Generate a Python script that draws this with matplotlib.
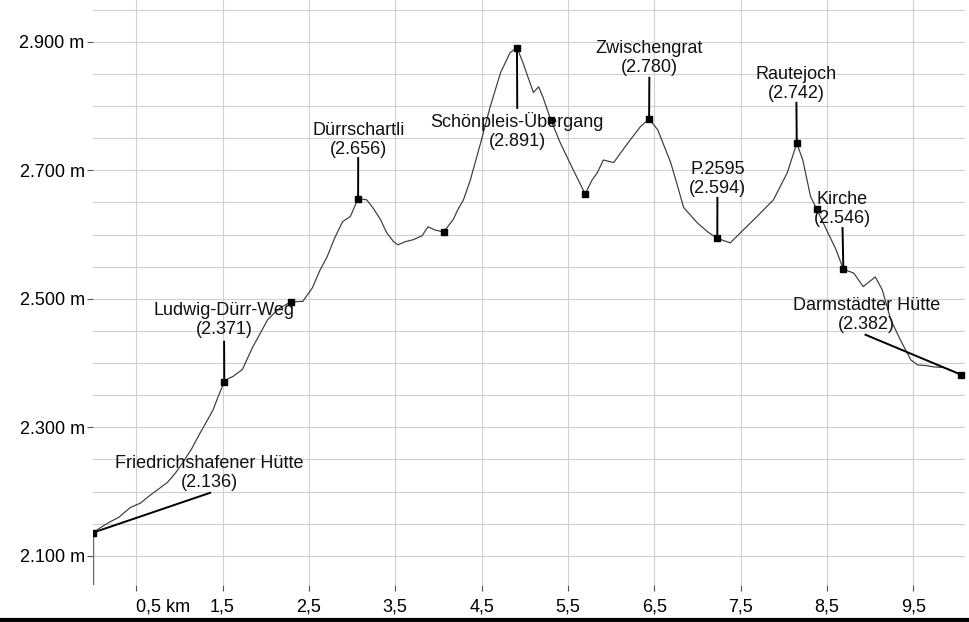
import matplotlib
matplotlib.use("Agg")
import matplotlib.pyplot as plt
from matplotlib.lines import Line2D

plt.rcParams['font.family'] = ['Liberation Sans', 'DejaVu Sans']

# profile (distance in km, elevation in m)
dist_km = [0.00, 0.10, 0.20, 0.30, 0.43, 0.55, 0.64, 0.75, 0.86, 0.95, 1.04, 1.14,
           1.24, 1.32, 1.39, 1.45, 1.52, 1.57, 1.62, 1.73, 1.85, 1.94, 2.02, 2.10,
           2.17, 2.29, 2.43, 2.54, 2.63, 2.71, 2.80, 2.89, 2.98, 3.07, 3.17, 3.25,
           3.33, 3.40, 3.48, 3.53, 3.62, 3.71, 3.81, 3.88, 3.96, 4.06, 4.17, 4.23,
           4.29, 4.37, 4.49, 4.60, 4.72, 4.83, 4.91, 4.98, 5.10, 5.16, 5.21, 5.30,
           5.41, 5.56, 5.70, 5.78, 5.84, 5.91, 5.97, 6.03, 6.11, 6.22, 6.34, 6.44,
           6.54, 6.69, 6.76, 6.84, 7.00, 7.12, 7.23, 7.38, 7.53, 7.69, 7.88, 8.04,
           8.15, 8.22, 8.31, 8.38, 8.51, 8.60, 8.69, 8.81, 8.92, 9.06, 9.14, 9.24,
           9.35, 9.47, 9.55, 9.65, 9.73, 9.85, 9.95, 10.05]
elev_m = [2136, 2145, 2153, 2160, 2175, 2182, 2192, 2203, 2214, 2228, 2245, 2266,
          2291, 2310, 2327, 2348, 2371, 2376, 2379, 2390, 2425, 2447, 2467, 2478,
          2486, 2495, 2496, 2517, 2545, 2565, 2595, 2620, 2628, 2656, 2654, 2640,
          2623, 2603, 2589, 2584, 2589, 2592, 2598, 2612, 2607, 2604, 2623, 2640,
          2654, 2685, 2743, 2799, 2852, 2883, 2891, 2867, 2821, 2830, 2814, 2779,
          2743, 2701, 2663, 2685, 2696, 2716, 2714, 2712, 2727, 2747, 2768, 2780,
          2763, 2712, 2680, 2642, 2618, 2604, 2594, 2587, 2607, 2628, 2654, 2696,
          2742, 2716, 2659, 2640, 2603, 2578, 2546, 2540, 2519, 2534, 2514, 2467,
          2436, 2405, 2397, 2396, 2394, 2393, 2388, 2382]

# named waypoints
wp_names = ["Friedrichshafener Hütte", "Ludwig-Dürr-Weg", "Dürrschartli",
            "Schönpleis-Übergang", "Zwischengrat", "P.2595", "Rautejoch",
            "Kirche", "Darmstädter Hütte"]
wp_km = [0.00, 1.52, 3.07, 4.91, 6.44, 7.23, 8.15, 8.69, 10.05]
wp_elev = [2136, 2371, 2656, 2891, 2780, 2594, 2742, 2546, 2382]

# other unnamed points on the route
pt_km = [2.29, 4.06, 5.30, 5.70, 8.38]
pt_elev = [2495, 2604, 2779, 2663, 2640]

# label placement: text centre and end of the leader line (data coords)
label_xy = [(1.344, 2229), (1.518, 2467), (3.071, 2747), (4.913, 2761),
            (6.443, 2874), (7.231, 2687), (8.146, 2835), (8.680, 2639),
            (8.955, 2474)]
leader_end = [(1.356, 2198), (1.518, 2433), (3.071, 2719), (4.913, 2797),
              (6.443, 2844), (7.231, 2657), (8.146, 2805), (8.680, 2610),
              (8.946, 2444)]

x_ticks = [0.5, 1.5, 2.5, 3.5, 4.5, 5.5, 6.5, 7.5, 8.5, 9.5]
x_labels = ["0,5 km", "1,5", "2,5", "3,5", "4,5", "5,5", "6,5", "7,5", "8,5", "9,5"]
y_ticks = [2100, 2300, 2500, 2700, 2900]
y_labels = ["2.100 m", "2.300 m", "2.500 m", "2.700 m", "2.900 m"]

fig = plt.figure(figsize=(9.69, 6.22), dpi=100)
ax = fig.add_axes([0.096, 0.06, 0.9, 0.94])
ax.set_xlim(0, 10.10)
ax.set_ylim(2055, 2965)

# grid
for g in range(2100, 2951, 50):
    ax.axhline(g, color='#d0d0d0', lw=0.8, zorder=0)
for g in x_ticks:
    ax.axvline(g, color='#d0d0d0', lw=0.8, zorder=0)

ax.plot([0, 0], [2055, elev_m[0]], color='#666666', lw=1.0)
ax.plot(dist_km, elev_m, color='#3a3a3a', lw=0.85, zorder=2)
ax.plot(pt_km, pt_elev, 's', color='black', ms=4, zorder=3)
ax.plot(wp_km, wp_elev, 's', color='black', ms=4, zorder=3)

for name, x, e, (tx, ty), (lx, ly) in zip(wp_names, wp_km, wp_elev, label_xy, leader_end):
    ax.plot([x, lx], [e, ly], color='black', lw=1.4, zorder=3)
    val = f"{e:,}".replace(",", ".")
    ax.text(tx, ty, f"{name}\n({val})", ha='center', va='center',
            fontsize=13, linespacing=1.15, color='#111111', zorder=4)

for s in ax.spines.values():
    s.set_visible(False)
ax.set_xticks(x_ticks)
ax.set_xticklabels(x_labels, fontsize=13)
ax.get_xticklabels()[0].set_horizontalalignment('left')
ax.set_yticks(y_ticks)
ax.set_yticklabels(y_labels, fontsize=13)
ax.tick_params(axis='both', length=4, width=0.8, color='#555555', pad=2)
ax.tick_params(axis='x', pad=6)

fig.add_artist(Line2D([0, 1], [0.003, 0.003], transform=fig.transFigure,
                      color='black', lw=3))

fig.savefig("out.png", dpi=100)
